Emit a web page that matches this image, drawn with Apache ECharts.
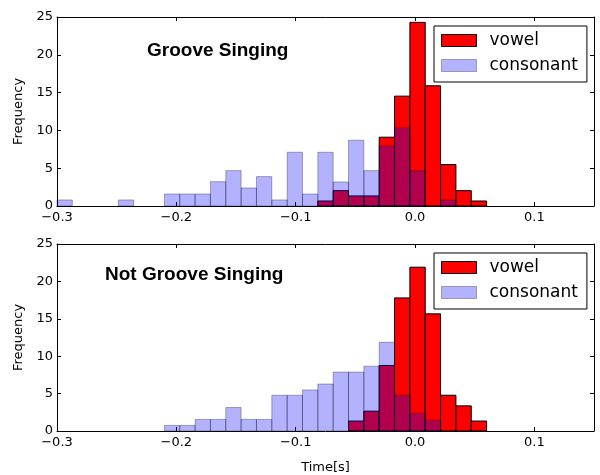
<!DOCTYPE html>
<html>
<head>
<meta charset="utf-8">
<script src="https://cdn.jsdelivr.net/npm/echarts@6/dist/echarts.min.js"></script>
<style>
  html, body { margin: 0; padding: 0; background: #fff; }
  #chart { width: 600px; height: 475px; }
</style>
</head>
<body>
<div id="chart"></div>
<script>
// shared histogram bins (28 bins starting at -0.3)
var binStart = -0.3
var binWidth = 0.36 / 28

var panelTitles = ['Groove Singing', 'Not Groove Singing']
var seriesNames = ['vowel', 'consonant']

// Groove Singing
var grooveVowel = [0, 0, 0, 0, 0, 0, 0, 0, 0, 0, 0, 0, 0, 0, 0, 0, 0,
  0.66, 2.03, 1.33, 1.33, 9.10, 14.53, 24.29, 15.9, 5.48, 2.03, 0.66]
var grooveConsonant = [0.8, 0, 0, 0, 0.8, 0, 0, 1.59, 1.59, 1.59, 3.22, 4.68, 2.39, 3.89,
  0.8, 7.11, 1.59, 7.11, 3.18, 8.70, 4.68, 7.95, 10.34, 4.68, 0, 0.8, 0, 0]

// Not Groove Singing
var notGrooveVowel = [0, 0, 0, 0, 0, 0, 0, 0, 0, 0, 0, 0, 0, 0, 0, 0, 0, 0, 0,
  1.33, 2.65, 8.76, 17.79, 21.9, 15.66, 4.78, 3.36, 1.33]
var notGrooveConsonant = [0, 0, 0, 0, 0, 0, 0, 0.75, 0.75, 1.55, 1.55, 3.14, 1.55, 1.55,
  4.78, 4.78, 5.49, 6.28, 7.88, 7.88, 8.67, 11.86, 4.78, 2.35, 1.46, 0, 0, 0]

var xTicks = [-0.3, -0.2, -0.1, 0.0, 0.1]

function toBins(values) {
  return values.map(function (v, i) {
    return [binStart + i * binWidth, binStart + (i + 1) * binWidth, v]
  })
}

function barRenderer(fill, stroke) {
  return function (params, api) {
    let h = api.value(2)
    if (!h) return
    let p0 = api.coord([api.value(0), h])
    let p1 = api.coord([api.value(1), 0])
    return {
      type: 'rect',
      shape: { x: p0[0], y: p0[1], width: p1[0] - p0[0], height: p1[1] - p0[1] },
      style: { fill: fill, stroke: stroke, lineWidth: 1 }
    }
  }
}

function fmtX(v) {
  if (Math.abs(v * 10 - Math.round(v * 10)) > 1e-6) return ''
  return (v < -1e-9 ? '\u2212' : '') + Math.abs(v).toFixed(1)
}

let vowelFill = '#ff0000', vowelEdge = '#000000'
let consFill = 'rgba(0,0,255,0.3)', consEdge = 'rgba(0,0,0,0.3)'
let font = 'DejaVu Sans'

let grids = [
  { left: 57, top: 17, width: 537, height: 189 },
  { left: 57, top: 244, width: 537, height: 189 }
]

let xAxes = [], yAxes = []
grids.forEach(function (g, gi) {
  ['bottom', 'top'].forEach(function (pos) {
    xAxes.push({
      gridIndex: gi, type: 'value', position: pos,
      min: xTicks[0], max: 0.15, interval: 0.1,
      name: (gi === 1 && pos === 'bottom') ? 'Time[s]' : '',
      nameLocation: 'middle', nameGap: 30,
      nameTextStyle: { fontFamily: font, fontSize: 13, color: '#000' },
      axisLine: { show: true, onZero: false, lineStyle: { color: '#000', width: 1 } },
      axisTick: { show: true, inside: true, length: 4, lineStyle: { color: '#000' } },
      axisLabel: { show: pos === 'bottom', formatter: fmtX, fontFamily: font, fontSize: 13, color: '#000', margin: 5, showMaxLabel: false },
      splitLine: { show: false }
    })
  });
  ['left', 'right'].forEach(function (pos) {
    yAxes.push({
      gridIndex: gi, type: 'value', position: pos,
      min: 0, max: 25, interval: 5,
      name: pos === 'left' ? 'Frequency' : '',
      nameLocation: 'middle', nameGap: 30,
      nameTextStyle: { fontFamily: font, fontSize: 13, color: '#000' },
      axisLine: { show: true, onZero: false, lineStyle: { color: '#000', width: 1 } },
      axisTick: { show: true, inside: true, length: 4, lineStyle: { color: '#000' } },
      axisLabel: { show: pos === 'left', fontFamily: font, fontSize: 13, color: '#000', margin: 4 },
      splitLine: { show: false }
    })
  })
})

let panels = [[grooveVowel, grooveConsonant], [notGrooveVowel, notGrooveConsonant]]
let series = []
panels.forEach(function (p, gi) {
  series.push({
    name: seriesNames[0], type: 'custom', xAxisIndex: gi * 2, yAxisIndex: gi * 2,
    renderItem: barRenderer(vowelFill, vowelEdge), encode: { x: [0, 1], y: 2 },
    itemStyle: { color: vowelFill }, data: toBins(p[0]), silent: true, z: 2
  })
  series.push({
    name: seriesNames[1], type: 'custom', xAxisIndex: gi * 2, yAxisIndex: gi * 2,
    renderItem: barRenderer(consFill, consEdge), encode: { x: [0, 1], y: 2 },
    itemStyle: { color: consFill }, data: toBins(p[1]), silent: true, z: 3
  })
})

function makeLegend(top) {
  return {
    left: 434, top: top, orient: 'vertical', icon: 'rect',
    itemWidth: 35, itemHeight: 12, itemGap: 8,
    backgroundColor: '#fff', borderColor: '#000', borderWidth: 1, borderRadius: 0,
    padding: [6, 9, 8, 7],
    selectedMode: false,
    textStyle: { fontFamily: font, fontSize: 17, color: '#000', padding: [0, 0, 0, 8] },
    data: [
      { name: seriesNames[0], itemStyle: { color: vowelFill, borderColor: vowelEdge, borderWidth: 1 } },
      { name: seriesNames[1], itemStyle: { color: consFill, borderColor: consEdge, borderWidth: 1 } }
    ]
  }
}

let titleStyle = { fontFamily: 'Liberation Sans', fontWeight: 'bold', fontSize: 19, color: '#000' }

let myChart = echarts.init(document.getElementById('chart'))
let option = {
  animation: false,
  backgroundColor: '#fff',
  title: [
    { text: panelTitles[0], left: 147, top: 41, padding: 0, textStyle: titleStyle },
    { text: panelTitles[1], left: 105, top: 265, padding: 0, textStyle: titleStyle }
  ],
  legend: [makeLegend(26), makeLegend(253)],
  grid: grids,
  xAxis: xAxes,
  yAxis: yAxes,
  series: series
}
myChart.setOption(option)
</script>
</body>
</html>
